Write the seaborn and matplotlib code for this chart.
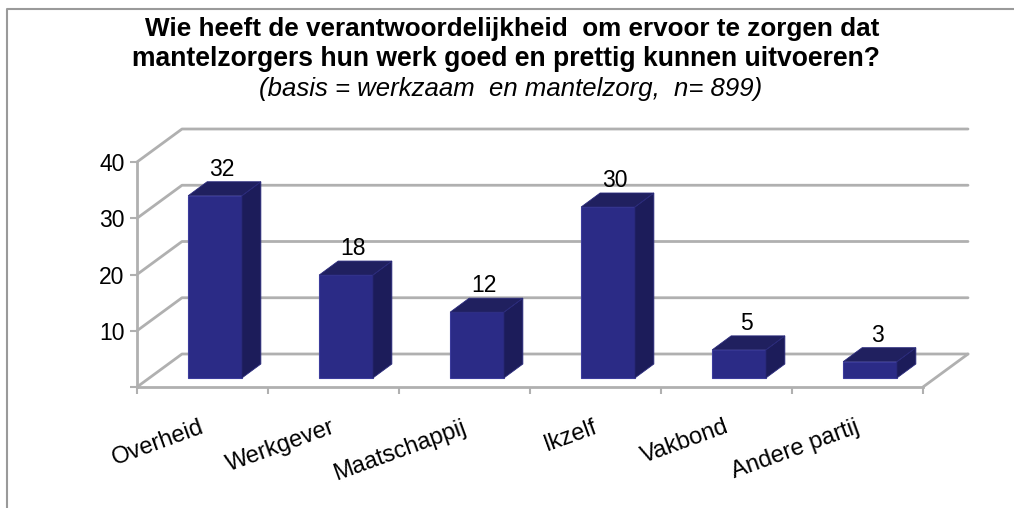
import numpy as np
import pandas as pd
import seaborn as sns
import matplotlib
matplotlib.use('Agg')
import matplotlib.pyplot as plt
from matplotlib.lines import Line2D
from matplotlib.patches import Polygon
from matplotlib.transforms import Affine2D, IdentityTransform

categories = ['Overheid', 'Werkgever', 'Maatschappij', 'Ikzelf', 'Vakbond', 'Andere partij']
values = [32.4, 18.3, 11.7, 30.4, 5.0, 2.9]
y_ticks = [0, 10, 20, 30, 40]
y_tick_labels = ['', '10', '20', '30', '40']
title_lines = ['Wie heeft de verantwoordelijkheid  om ervoor te zorgen dat',
               'mantelzorgers hun werk goed en prettig kunnen uitvoeren?']
subtitle = '(basis = werkzaam  en mantelzorg,  n= 899)'

W, H = 1014, 508
GRID = '#b0b0b0'
FRONT = '#2b2b86'
SIDE = '#1c1c5a'
TOP = '#20205f'

sns.set_theme(style='white')
plt.rcParams['font.family'] = ['Liberation Sans', 'DejaVu Sans']

fig = plt.figure(figsize=(W / 100, H / 100), dpi=100)
# axes box is the front plane of the fake 3d chart
ax = fig.add_axes([137 / W, 1 - 387 / H, (923 - 137) / W, (387 - 162) / H])

df = pd.DataFrame({'cat': categories, 'val': values})
sns.barplot(data=df, x='cat', y='val', color=FRONT, saturation=1, width=0.41, ax=ax,
            edgecolor='#3c3c9c', linewidth=0.8)
ax.set_xlim(-0.5, 5.5)
ax.set_ylim(0, 40)
ax.set_xlabel('')
ax.set_ylabel('')

ax.set_yticks(y_ticks, labels=y_tick_labels)
ax.tick_params(axis='y', length=5, width=1.5, color=GRID, left=True, labelsize=16.5, pad=4, labelcolor='black')
ax.set_xticks(np.arange(-0.5, 6), labels=[])
ax.tick_params(axis='x', which='major', length=5, width=1.5, color=GRID, bottom=True)
# labels hang a little left of the category centre
ax.set_xticks(np.arange(6) - 0.02, labels=categories, minor=True)
ax.tick_params(axis='x', which='minor', length=0, pad=21, labelsize=17, labelcolor='black')
for lab in ax.get_xticklabels(minor=True):
    lab.set_rotation(20)
    lab.set_ha('right')
    lab.set_rotation_mode('anchor')

for s in ['top', 'right']:
    ax.spines[s].set_visible(False)
for s in ['left', 'bottom']:
    ax.spines[s].set_color(GRID)
    ax.spines[s].set_linewidth(2)
ax.patch.set_alpha(0)

fig.canvas.draw()
pix = IdentityTransform()
depth_x, depth_y = 45, 33
x0 = ax.transData.transform((-0.5, 0))[0]
x1 = ax.transData.transform((5.5, 0))[0]

# walls and floor
for t in y_ticks:
    y = ax.transData.transform((0, t))[1]
    fig.add_artist(Line2D([x0, x0 + depth_x, x1 + depth_x], [y, y + depth_y, y + depth_y],
                          transform=pix, color=GRID, lw=2, zorder=0))
y = ax.transData.transform((0, 0))[1]
fig.add_artist(Line2D([x1, x1 + depth_x], [y, y + depth_y], transform=pix, color=GRID, lw=2, zorder=0))

# bars sit in the middle of the depth, side and top faces come from the bar corners
shift_x, shift_y = 12.5, 9
bar_dx, bar_dy = 19, 14
bar_trans = ax.transData + Affine2D().translate(shift_x, shift_y)
for p in list(ax.patches):
    p.set_transform(bar_trans)
    p.set_clip_on(False)
    (l, b), (r, t) = bar_trans.transform([(p.get_x(), 0),
                                          (p.get_x() + p.get_width(), p.get_height())])
    ax.add_patch(Polygon([(r, b), (r + bar_dx, b + bar_dy), (r + bar_dx, t + bar_dy), (r, t)],
                         transform=pix, facecolor=SIDE, edgecolor='#2a2a7c', lw=0.6, clip_on=False))
    ax.add_patch(Polygon([(l, t), (r, t), (r + bar_dx, t + bar_dy), (l + bar_dx, t + bar_dy)],
                         transform=pix, facecolor=TOP, edgecolor='#2a2a7c', lw=0.6, clip_on=False))

for i, v in enumerate(values):
    ax.annotate(f'{v:.0f}', xy=(i, v), xycoords='data', xytext=(19.5 * 0.72, 35.5 * 0.72),
                textcoords='offset points', ha='center', va='center', fontsize=16.5, color='black',
                annotation_clip=False)

fig.text(512 / W, 1 - 29 / H, title_lines[0], ha='center', va='center', fontsize=18.8,
         fontweight='bold', color='black')
fig.text(506 / W, 1 - 59 / H, title_lines[1], ha='center', va='center', fontsize=19.1,
         fontweight='bold', color='black')
fig.text(511 / W, 1 - 89 / H, subtitle, ha='center', va='center', fontsize=18.5,
         style='italic', color='black')

# outer chart frame
fig.add_artist(Line2D([7 / W, 7 / W, 1 / 1], [0, 1 - 9 / H, 1 - 9 / H], color='#9a9a9a', lw=1.5))

fig.savefig('out.png', dpi=100)
